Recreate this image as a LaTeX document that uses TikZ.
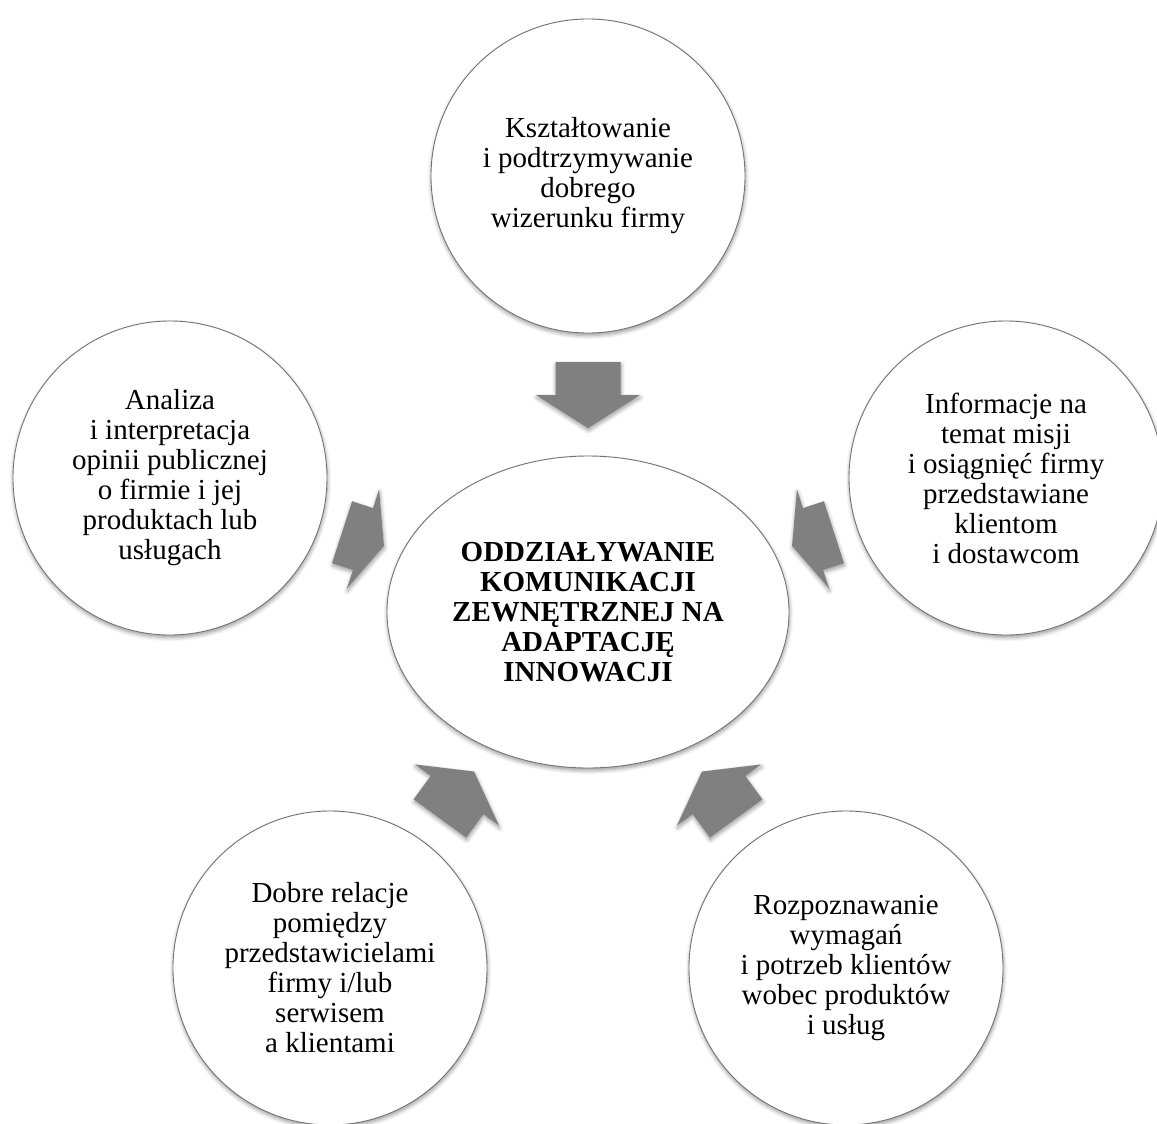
\documentclass[tikz,border=0pt]{standalone}
\usepackage{fontspec}
\setmainfont{Liberation Serif}
\usetikzlibrary{shapes.geometric,shadows.blur}

\tikzset{
  softshadow/.style={blur shadow={shadow xshift=0.5pt, shadow yshift=-2.5pt,
      shadow blur radius=4pt, shadow blur steps=6, shadow opacity=40}},
  topic/.style={circle, draw=black!55, line width=0.9pt, fill=white,
      minimum size=314pt, inner sep=0pt, align=center,
      font=\fontsize{29}{30}\selectfont, softshadow},
  hub/.style={ellipse, draw=black!55, line width=0.9pt, fill=white,
      minimum width=402pt, minimum height=312pt, inner sep=0pt, align=center,
      font=\fontsize{29}{30}\selectfont\bfseries, softshadow},
  arrowfill/.style={fill=black!50, draw=none, softshadow},
  % block arrow pointing along +x, centred on the pic origin; #1 = total length
  pics/blockarrow/.style={code={
      \path[arrowfill] (-#1/2,-32.5) -- (0,-32.5) -- (0,-52) -- (#1/2,0)
        -- (0,52) -- (0,32.5) -- (-#1/2,32.5) -- cycle;}}
}

\begin{document}
\begin{tikzpicture}[x=1pt, y=-1pt]
  \useasboundingbox (0,0) rectangle (1157,1124);

  % centre and the five surrounding topics
  \node[hub] (centre) at (588,612)
    {ODDZIAŁYWANIE\\KOMUNIKACJI\\ZEWNĘTRZNEJ NA\\ADAPTACJĘ\\INNOWACJI};

  \node[topic] (top) at (588,176)
    {Kształtowanie\\i podtrzymywanie\\dobrego\\wizerunku firmy};
  \node[topic] (left) at (170,478)
    {Analiza\\i interpretacja\\opinii publicznej\\o firmie i jej\\produktach lub\\usługach};
  \node[topic] (right) at (1006,478)
    {Informacje na\\temat misji\\i osiągnięć firmy\\przedstawiane\\klientom\\i dostawcom};
  \node[topic] (botleft) at (330,968)
    {Dobre relacje\\pomiędzy\\przedstawicielami\\firmy i/lub\\serwisem\\a klientami};
  \node[topic] (botright) at (846,968)
    {Rozpoznawanie\\wymagań\\i potrzeb klientów\\wobec produktów\\i usług};

  % converging block arrows
  \coordinate (atop) at (588,395);
  \coordinate (aleft) at (363,539);
  \coordinate (aright) at (813,539);
  \coordinate (abotleft) at (457,795);
  \coordinate (abotright) at (719,795);

  \pic[rotate=-90] at (atop) {blockarrow=66};
  \pic[rotate=-18] at (aleft) {blockarrow=44};
  \pic[rotate=198] at (aright) {blockarrow=44};
  \pic[rotate=54] at (abotleft) {blockarrow=58};
  \pic[rotate=126] at (abotright) {blockarrow=58};
\end{tikzpicture}
\end{document}
